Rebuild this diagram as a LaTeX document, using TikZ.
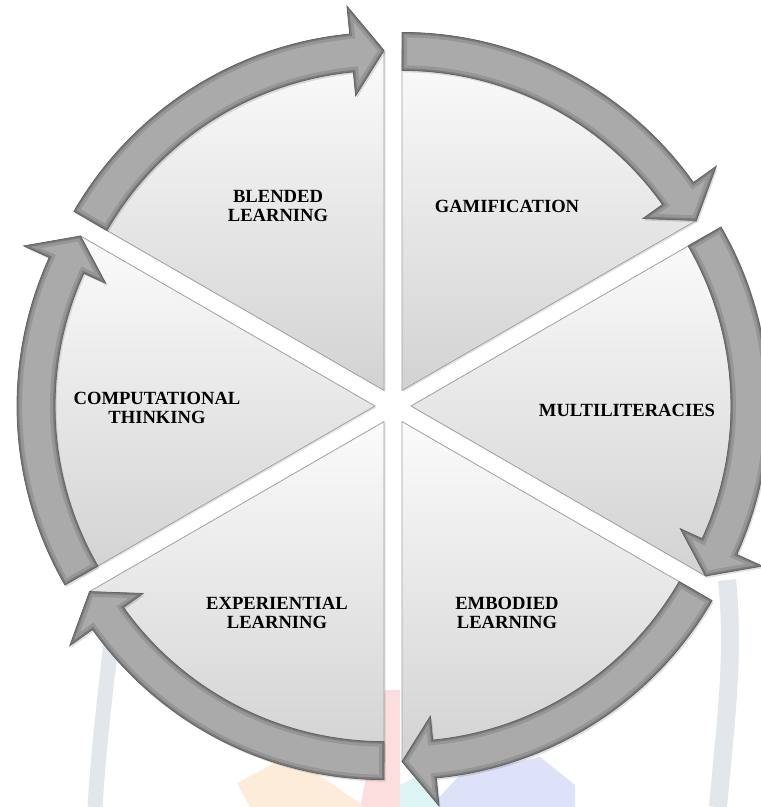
\documentclass[tikz,border=0pt]{standalone}
\usepackage{fontspec}
\setmainfont{Liberation Serif}
\definecolor{arrmid}{RGB}{170,170,170}
\definecolor{arredge}{RGB}{150,150,150}
\definecolor{arrdark}{RGB}{122,122,122}
\definecolor{arrline}{RGB}{100,100,100}
\definecolor{sectop}{RGB}{251,251,251}
\definecolor{secbot}{RGB}{210,210,210}
\definecolor{secline}{RGB}{160,160,160}
\definecolor{wmblue}{RGB}{226,231,236}
\definecolor{wmpink}{RGB}{252,222,222}
\definecolor{wmpeach}{RGB}{254,236,218}
\definecolor{wmlav}{RGB}{222,226,248}
\definecolor{wmcyan}{RGB}{220,246,246}
\tikzset{
  lbl/.style={align=center, font=\fontsize{18.6}{19.5}\selectfont\bfseries, text=black, inner sep=0pt}
}
\begin{document}
\begin{tikzpicture}[x=1pt,y=1pt]
\useasboundingbox (0,0) rectangle (761,807);
\fill[white] (0,0) rectangle (761,807);
% faint watermark
\fill[wmpink] (385,117) -- (400,117) -- (400,0) -- (360,0) -- cycle;
\fill[wmpeach] (237,24) -- (290,52) -- (365,0) -- (250,0) -- cycle;
\fill[wmlav] (430,0) -- (460,32) -- (540,50) -- (575,22) -- (575,0) -- cycle;
\fill[wmcyan] (400,22) -- (430,37) -- (440,0) -- (400,0) -- cycle;
\draw[wmblue, line width=15] (118,227) .. controls (110,150) and (100,80) .. (95,0);
\draw[wmblue, line width=18] (727,227) .. controls (735,150) and (725,80) .. (718,0);
% sectors and arrows
\begin{scope}[shift={(393,401)}]
\foreach \b in {120,60,0,-60,-120,-180} {
  \begin{scope}[shift={(\b:18)}]
    \pgfmathsetmacro\aA{\b+30}
    \pgfmathsetmacro\aB{\b-30}
    \pgfmathsetmacro\aH{\b-30+5.5}
    % sector shadow
    \fill[black, opacity=0.10] ([shift={(1.5,-1.5)}]0,0) -- ++(\aA:340) arc[start angle=\aA, end angle=\aB, radius=340] -- cycle;
    \shade[top color=sectop, bottom color=secbot, draw=secline, line width=0.8]
      (0,0) -- (\aA:340) arc[start angle=\aA, end angle=\aB, radius=340] -- cycle;
    % arrow shadow
    \fill[black, opacity=0.12, shift={(1.5,-2)}]
      (\aA:358) arc[start angle=\aA, end angle=\aH, radius=358] -- (\aH:386) -- (\aB:340) -- (\aH:296) -- (\aH:320) arc[start angle=\aH, end angle=\aA, radius=320] -- cycle;
    % arrow body
    \begin{scope}
      \clip (\aA:358) arc[start angle=\aA, end angle=\aH, radius=358] -- (\aH:386) -- (\aB:340) -- (\aH:296) -- (\aH:320) arc[start angle=\aH, end angle=\aA, radius=320] -- cycle;
      \fill[arrmid] (\aA:358) arc[start angle=\aA, end angle=\aH, radius=358] -- (\aH:386) -- (\aB:340) -- (\aH:296) -- (\aH:320) arc[start angle=\aH, end angle=\aA, radius=320] -- cycle;
      \draw[arredge, line width=10, line join=miter] (\aA:358) arc[start angle=\aA, end angle=\aH, radius=358] -- (\aH:386) -- (\aB:340) -- (\aH:296) -- (\aH:320) arc[start angle=\aH, end angle=\aA, radius=320] -- cycle;
      \draw[arrdark, line width=4, line join=miter] (\aA:358) arc[start angle=\aA, end angle=\aH, radius=358] -- (\aH:386) -- (\aB:340) -- (\aH:296) -- (\aH:320) arc[start angle=\aH, end angle=\aA, radius=320] -- cycle;
    \end{scope}
    \draw[arrline, line width=0.8, line join=miter] (\aA:358) arc[start angle=\aA, end angle=\aH, radius=358] -- (\aH:386) -- (\aB:340) -- (\aH:296) -- (\aH:320) arc[start angle=\aH, end angle=\aA, radius=320] -- cycle;
  \end{scope}
}
\end{scope}
% labels
\node[lbl] (blended) at (278,601) {BLENDED\\LEARNING};
\node[lbl] (gamif) at (507,601) {GAMIFICATION};
\node[lbl] (comp) at (157,399) {COMPUTATIONAL\\THINKING};
\node[lbl] (multi) at (627,397) {MULTILITERACIES};
\node[lbl] (exper) at (277,194) {EXPERIENTIAL\\LEARNING};
\node[lbl] (embod) at (507,194) {EMBODIED\\LEARNING};
\end{tikzpicture}
\end{document}
